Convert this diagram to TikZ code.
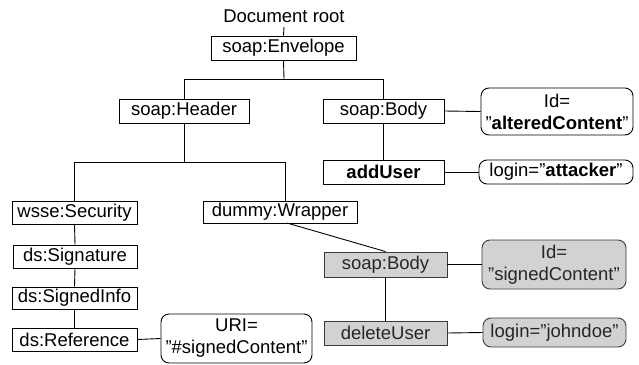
\documentclass[tikz,border=0pt]{standalone}
\usepackage{fontspec}
\setmainfont{Liberation Sans}
\definecolor{boxgray}{HTML}{D2D2D2}
\definecolor{edgegray}{HTML}{3A3A3A}
\begin{document}
\begin{tikzpicture}[x=1pt,y=-1pt,
  every node/.style={font=\fontsize{18.5}{22}\selectfont, inner sep=0pt, align=center},
  elem/.style={draw=black, line width=0.9pt, fill=white, minimum width=#1, minimum height=24},
  elem/.default=121,
  attr/.style={elem=#1, rounded corners=8pt},
  signed/.style={fill=boxgray, draw=edgegray, text=black!85},
  link/.style={line width=0.9pt, draw=black}
]
\useasboundingbox (0,0) rectangle (639,364);

% document root and envelope
\node (root) at (284,16) {Document root};
\node[elem=145] (env) at (283.5,48) {soap:Envelope};

% header and body
\node[elem=130] (hdr) at (184,111) {soap:Header};
\node[elem=121] (body) at (383.5,111) {soap:Body};
\node[attr=152, minimum height=47] (bodyid) at (557,111.5) {Id=\\”\textbf{alteredContent}”};
\node[elem=121] (add) at (383.5,172) {\textbf{addUser}};
\node[attr=154] (addlogin) at (556,172) {login=”\textbf{attacker}”};

% security header branch
\node[elem=125, minimum height=23] (sec) at (74.5,212.5) {wsse:Security};
\node[elem=124, minimum height=23] (sig) at (75,256.5) {ds:Signature};
\node[elem=125, minimum height=22] (sinfo) at (74.5,298) {ds:SignedInfo};
\node[elem=125, minimum height=23] (ref) at (74.5,339.5) {ds:Reference};
\node[attr=151, minimum height=49] (uri) at (236.5,338.5) {URI=\\”\#signedContent”};

% wrapper branch with the signed body
\node[elem=154, minimum height=22] (wrap) at (280,212) {dummy:Wrapper};
\node[elem=123, minimum height=25, signed] (body2) at (385.5,264.5) {soap:Body};
\node[attr=144, minimum height=49, signed] (body2id) at (554,264.5) {Id=\\”signedContent”};
\node[elem=123, signed] (del) at (385.5,333) {deleteUser};
\node[attr=143, minimum height=29, signed] (dellogin) at (554.5,332.5) {login=”johndoe”};

% junctions of the tree
\coordinate (j1) at (284,79);
\coordinate (j2) at (184,162);
\coordinate (wraptop) at (285,201);
\coordinate (wrapbot) at (287,223);

% connectors
\draw[link] (root.south |- 0,27) -- (env.north);
\draw[link] (env.south) -- (j1);
\draw[link] (j1) -| (hdr.north);
\draw[link] (j1) -| (body.north);
\draw[link] (body.east) -- (bodyid.west);
\draw[link] (body.south) -- (add.north);
\draw[link] (add.east) -- (addlogin.west);
\draw[link] (hdr.south) -- (j2);
\draw[link] (j2) -| (sec.north);
\draw[link] (j2) -| (wraptop);
\draw[link] (sec.south) -- (sig.north);
\draw[link] (sig.south) -- (sinfo.north);
\draw[link] (sinfo.south) -- (ref.north);
\draw[link] (ref.east) -- (uri.west);
\draw[link] (wrapbot) -- (body2.north);
\draw[link] (body2.east) -- (body2id.west);
\draw[link] (body2.south) -- (del.north);
\draw[link] (del.east) -- (dellogin.west);
\end{tikzpicture}
\end{document}
